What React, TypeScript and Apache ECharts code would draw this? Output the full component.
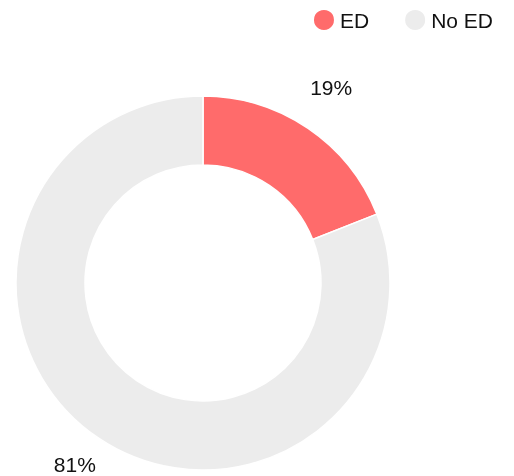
import React, { useEffect, useRef } from "react";
import * as echarts from "echarts";

const categories = ["ED", "No ED"];
const values = [19, 81];
const colors = ["#ff6b6b", "#ececec"];

export default function App() {
  const ref = useRef<HTMLDivElement>(null);
  useEffect(() => {
    if (!ref.current) return;
    const chart = echarts.init(ref.current, null, { renderer: "svg" });
    const data = categories.map((name, i) => ({
      name,
      value: values[i],
      itemStyle: { color: colors[i] },
    }));
    const font = "'Liberation Sans', Arial, Helvetica, sans-serif";
    chart.setOption({
      animation: false,
      legend: {
        data: categories,
        right: 16,
        top: 3,
        icon: "circle",
        itemWidth: 22,
        itemHeight: 22,
        itemGap: 34,
        textStyle: { fontSize: 21, color: "#111", fontFamily: font },
      },
      series: [
        {
          type: "pie",
          center: [203, 283],
          radius: [118, 187],
          startAngle: 90,
          clockwise: true,
          silent: true,
          itemStyle: { borderColor: "#ffffff", borderWidth: 1.5 },
          label: { show: false },
          labelLine: { show: false },
          data,
        },
        {
          type: "pie",
          center: [203, 276],
          radius: [220, 230],
          startAngle: 90,
          clockwise: true,
          silent: true,
          legendHoverLink: false,
          itemStyle: { color: "rgba(0,0,0,0)", borderWidth: 0 },
          label: {
            show: true,
            position: "inside",
            formatter: "{d}%",
            fontSize: 21,
            color: "#111",
            fontFamily: font,
          },
          labelLine: { show: false },
          data: categories.map((name, i) => ({
            name,
            value: values[i],
            itemStyle: { color: "rgba(0,0,0,0)" },
          })),
        },
      ],
    });
    return () => chart.dispose();
  }, []);
  return (
    <div
      ref={ref}
      style={{ position: "fixed", left: 0, top: 0, width: 514, height: 476 }}
    />
  );
}
